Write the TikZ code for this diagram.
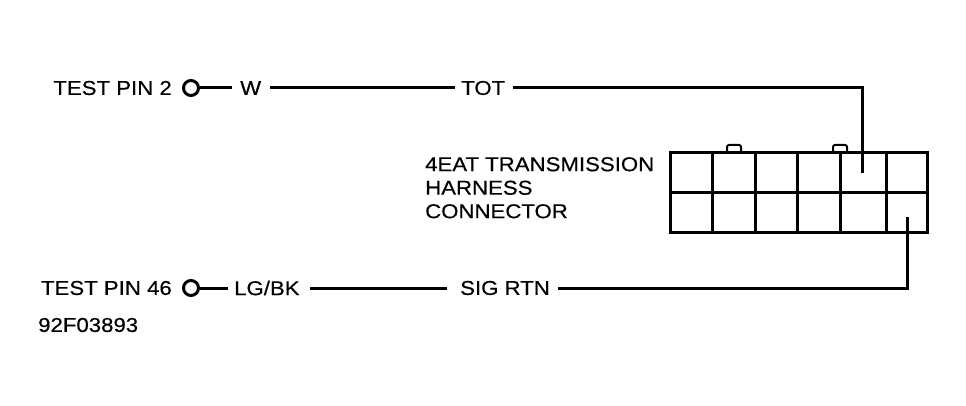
\documentclass[tikz,border=0pt]{standalone}
\usepackage{fontspec}
\setmainfont[FakeStretch=1.11,FakeBold=0.4]{Liberation Sans}
\begin{document}
\begin{tikzpicture}[x=1pt,y=-1pt,
  wire/.style={line width=3pt},
  lbl/.style={font=\fontsize{20}{23.5}\selectfont,inner sep=0pt},
  pin/.style={circle,draw,line width=3pt,minimum size=15pt,inner sep=0pt},
  grid/.style={line width=3pt}]
\useasboundingbox (0,0) rectangle (966,406);
% top wire
\node[lbl,anchor=east] (tp2) at (172,88) {TEST PIN 2};
\node[pin] (p2) at (191,88) {};
\node[lbl,anchor=west] (w) at (240,88) {W};
\node[lbl,anchor=west] (tot) at (461,88) {TOT};
\coordinate (c1) at (862,88);
\coordinate (e1) at (862,173);
\draw[wire] (p2.east) -- (232,88);
\draw[wire] (270,88) -- (455,88);
\draw[wire] (tot.east) ++(8,0) -- (c1) -- (e1);
% bottom wire
\node[lbl,anchor=east] (tp46) at (172,288) {TEST PIN 46};
\node[pin] (p46) at (191,288) {};
\node[lbl,anchor=west] (lg) at (234,288) {LG/BK};
\node[lbl,anchor=west] (sig) at (460,288) {SIG RTN};
\coordinate (c2) at (907,288);
\coordinate (e2) at (907,217);
\draw[wire] (p46.east) -- (228,288);
\draw[wire] (310,288) -- (447,288);
\draw[wire] (sig.east) ++(8,0) -- (c2) -- (e2);
\node[lbl,anchor=west] (id) at (38,325) {92F03893};
\node[lbl,anchor=north west,align=left] (name) at (425,157) {4EAT TRANSMISSION\\HARNESS\\CONNECTOR};
% connector
\draw[line width=2pt,rounded corners=2pt] (727,153) -- (727,145) -- (741,145) -- (741,153);
\draw[line width=2pt,rounded corners=2pt] (833,153) -- (833,145) -- (847,145) -- (847,153);
\draw[grid] (670,153) rectangle (927,232);
\draw[grid] (670,193) -- (927,193);
\foreach \x in {712,755,797,840,886} \draw[grid] (\x,153) -- (\x,232);
\end{tikzpicture}
\end{document}
